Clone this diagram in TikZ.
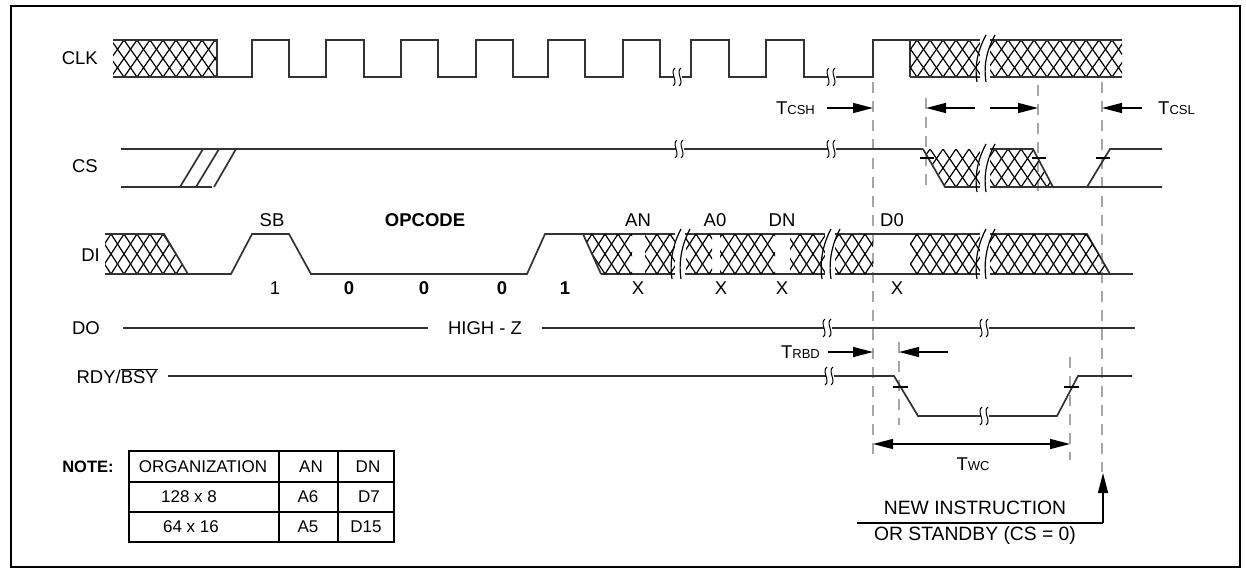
\documentclass[tikz,border=0pt]{standalone}
\usepackage{fontspec}
\setmainfont{Liberation Sans}
\usetikzlibrary{arrows.meta}
\newcommand{\xh}[5]{% clip path, ytop, ybot, i1, i2
  \begin{scope}\clip #1;
  \foreach \i in {#4,...,#5} {\draw[hl] (13*\i-6,#2) -- (13*\i+20,#3) (13*\i+20,#2) -- (13*\i-6,#3);}
  \end{scope}}
\newcommand{\hbrk}[3]{%
  \fill[white] (#1-5,#2-1) rectangle (#1+5,#3+1);
  \draw[hl] (#1-8,#3+5) .. controls (#1-11,#3-14) and (#1-6,#2+8) .. (#1+1,#2-5);
  \draw[hl] (#1+1,#3+5) .. controls (#1-2,#3-14) and (#1+3,#2+8) .. (#1+10,#2-5);}
\newcommand{\sbrk}[2]{%
  \fill[white] (#1-4,#2-2) rectangle (#1+4,#2+2);
  \draw[line width=1pt] (#1-5,#2+9) .. controls (#1+1,#2+5) and (#1-9,#2-5) .. (#1-3,#2-9);
  \draw[line width=1pt] (#1+1,#2+9) .. controls (#1+7,#2+5) and (#1-3,#2-5) .. (#1+3,#2-9);}
\newcommand{\tname}[1]{T{\fontsize{13}{13}\selectfont #1}}
\begin{document}
\begin{tikzpicture}[x=1pt,y=-1pt,
  sig/.style={line width=1.7pt, draw=black!80},
  hl/.style={line width=1.2pt, draw=black},
  dsh/.style={line width=1.8pt, draw=black!35, dash pattern=on 11pt off 8pt},
  arr/.style={line width=1.4pt, -{Triangle[length=20pt,width=10pt]}},
  lbl/.style={font=\fontsize{18.5}{20}\selectfont, inner sep=0pt},
  blbl/.style={font=\fontsize{18.5}{20}\selectfont\bfseries, inner sep=0pt},
  nlbl/.style={font=\fontsize{19.3}{21}\selectfont, inner sep=0pt},
  tlbl/.style={font=\fontsize{17}{19}\selectfont, inner sep=0pt},
  tick/.style={line width=1.2pt, draw=black}]
\useasboundingbox (0,0) rectangle (1246,573);
\draw[line width=2.5pt] (11,6) rectangle (1240,567);

% dashed reference lines
\coordinate (d1t) at (873,82);  \coordinate (d1b) at (873,460);
\coordinate (d2t) at (926,98);  \coordinate (d2b) at (926,192);
\coordinate (d3t) at (1038,85); \coordinate (d3b) at (1038,195);
\coordinate (d4t) at (1102,82); \coordinate (d4b) at (1102,472);
\coordinate (d5t) at (899,342); \coordinate (d5b) at (899,425);
\coordinate (d6t) at (1070,357);\coordinate (d6b) at (1070,460);
\foreach \a in {1,...,6} {\draw[dsh] (d\a t) -- (d\a b);}

% labels
\node[lbl, anchor=east] (lclk) at (98,58) {CLK};
\node[lbl, anchor=east] (lcs) at (98,166) {CS};
\node[lbl, anchor=east] (ldi) at (100,255) {DI};
\node[lbl, anchor=east] (ldo) at (100,328) {DO};
\node[lbl, anchor=east] (lrdy) at (158,376) {RDY/$\overline{\mbox{BSY}}$};

% CLK
\xh{(113,40) rectangle (217,77)}{40}{77}{7}{18}
\draw[sig] (113,40) -- (217,40) -- (217,77);
\draw[sig] (113,77) -- (252,77) -- (252,40) -- (289,40) -- (289,77) -- (326,77) -- (326,40) -- (364,40) -- (364,77) -- (401,77) -- (401,40) -- (438,40) -- (438,77) -- (476,77) -- (476,40) -- (513,40) -- (513,77) -- (548,77) -- (548,40) -- (585,40) -- (585,77) -- (623,77) -- (623,40) -- (660,40) -- (660,77) -- (691,77) -- (691,40) -- (729,40) -- (729,77) -- (766,77) -- (766,40) -- (804,40) -- (804,77) -- (873,77) -- (873,40) -- (910,40) -- (910,77);
\xh{(910,40) rectangle (1122,77)}{40}{77}{68}{87}
\draw[sig] (910,40) -- (1122,40) (910,77) -- (1122,77);
\sbrk{678}{77}
\sbrk{832}{77}
\hbrk{985}{40}{77}

% CS
\draw[sig] (121,149) -- (923,149);
\draw[sig] (121,187) -- (212,187);
\draw[sig] (180,187) -- (203,149) (196,187) -- (219,149) (214,187) -- (236,149);
\sbrk{680}{149}
\sbrk{832}{149}
\xh{(923,149) -- (1033,149) -- (1053,187) -- (945,187) -- cycle}{149}{187}{69}{82}
\draw[sig] (923,149) -- (945,187) -- (1162,187);
\draw[sig] (990,149) -- (1033,149) -- (1053,187);
\draw[sig] (1087,187) -- (1110,149) -- (1162,149);
\hbrk{985}{149}{187}
\draw[tick] (920,158) -- (934,158) (1032,158) -- (1046,158) (1096,158) -- (1110,158);

% DI
\xh{(105,234) -- (164,234) -- (188,274) -- (105,274) -- cycle}{234}{274}{6}{15}
\draw[sig] (105,234) -- (164,234) -- (188,274);
\draw[sig] (105,274) -- (231,274) -- (252,234) -- (289,234) -- (311,274) -- (527,274) -- (545,234) -- (1087,234) -- (1110,274);
\draw[sig] (601,274) -- (1133,274);
\xh{(583,234) -- (632,234) -- (632,274) -- (601,274) -- cycle}{234}{274}{43}{49}
\xh{(645,234) rectangle (677,274)}{234}{274}{48}{53}
\xh{(686,234) rectangle (712,274)}{234}{274}{51}{56}
\xh{(720,234) rectangle (775,274)}{234}{274}{54}{61}
\xh{(790,234) rectangle (826,274)}{234}{274}{59}{64}
\xh{(834,234) rectangle (873,274)}{234}{274}{62}{68}
\xh{(910,234) rectangle (985,274)}{234}{274}{68}{77}
\xh{(985,234) -- (1087,234) -- (1110,274) -- (985,274) -- cycle}{234}{274}{74}{86}
\draw[sig] (583,234) -- (601,274);
\hbrk{680}{234}{274}
\hbrk{830}{234}{274}
\hbrk{985}{234}{274}

\node[lbl] (sb) at (272,220) {SB};
\node[blbl] (opc) at (425,220) {OPCODE};
\node[lbl] (an) at (638,220) {AN};
\node[lbl] (a0) at (715,220) {A0};
\node[lbl] (dn) at (782,220) {DN};
\node[lbl] (d0) at (892,220) {D0};
\node[lbl] (b1) at (275,288) {1};
\node[blbl] (b2) at (349,288) {0};
\node[blbl] (b3) at (424,288) {0};
\node[blbl] (b4) at (502,288) {0};
\node[blbl] (b5) at (565,288) {1};
\node[lbl] (x1) at (638,288) {X};
\node[lbl] (x2) at (721,288) {X};
\node[lbl] (x3) at (782,288) {X};
\node[lbl] (x4) at (897,288) {X};

% DO
\node[lbl] (hz) at (485,328) {HIGH - Z};
\draw[sig] (123,328) -- (428,328);
\draw[sig] (542,328) -- (1135,328);
\sbrk{828}{328}
\sbrk{985}{328}

% RDY/BSY
\draw[sig] (168,376) -- (894,376) -- (918,416) -- (1057,416) -- (1078,376) -- (1132,376);
\sbrk{830}{376}
\sbrk{985}{416}
\draw[tick] (893,387) -- (908,387) (1064,387) -- (1079,387);

% timing annotations
\node[lbl, anchor=east] (tcsh) at (815,108) {\tname{CSH}};
\draw[arr] (827,108) -- (d1t |- 0,108);
\draw[arr] (975,108) -- (d2t |- 0,108);
\draw[arr] (990,108) -- (d3t |- 0,108);
\node[lbl, anchor=west] (tcsl) at (1158,108) {\tname{CSL}};
\draw[arr] (1142,108) -- (d4t |- 0,108);
\node[lbl, anchor=east] (trbd) at (820,352) {\tname{RBD}};
\draw[arr] (828,352) -- (d1t |- 0,352);
\draw[arr] (948,352) -- (d5t |- 0,352);
\draw[line width=1.4pt, {Triangle[length=20pt,width=10pt]}-{Triangle[length=20pt,width=10pt]}] (d1t |- 0,444) -- (d6t |- 0,444);
\node[lbl] (twc) at (973,464) {\tname{WC}};

\node[nlbl] (ni1) at (975,508) {NEW INSTRUCTION};
\node[nlbl] (ni2) at (975,535) {OR STANDBY (CS = 0)};
\coordinate (nl) at (857,523);
\coordinate (nr) at (1103,523);
\draw[line width=1.4pt] (nl) -- (nr);
\draw[arr] (nr) -- (1103,473);

% table
\node[font=\fontsize{16.5}{18}\selectfont\bfseries, inner sep=0pt] (note) at (88,467) {NOTE:};
\draw[line width=1.3pt] (129,451) rectangle (394,542);
\draw[line width=1.3pt] (279,451) -- (279,542) (338,451) -- (338,542) (129,482) -- (394,482) (129,512) -- (394,512);
\node[tlbl] (h1) at (203,467) {ORGANIZATION};
\node[tlbl] (h2) at (311,467) {AN};
\node[tlbl] (h3) at (368,467) {DN};
\node[tlbl] (r11) at (189,497) {128 x 8};
\node[tlbl] (r12) at (308,497) {A6};
\node[tlbl] (r13) at (369,497) {D7};
\node[tlbl] (r21) at (191,527) {64 x 16};
\node[tlbl] (r22) at (308,527) {A5};
\node[tlbl] (r23) at (366,527) {D15};
\end{tikzpicture}
\end{document}
